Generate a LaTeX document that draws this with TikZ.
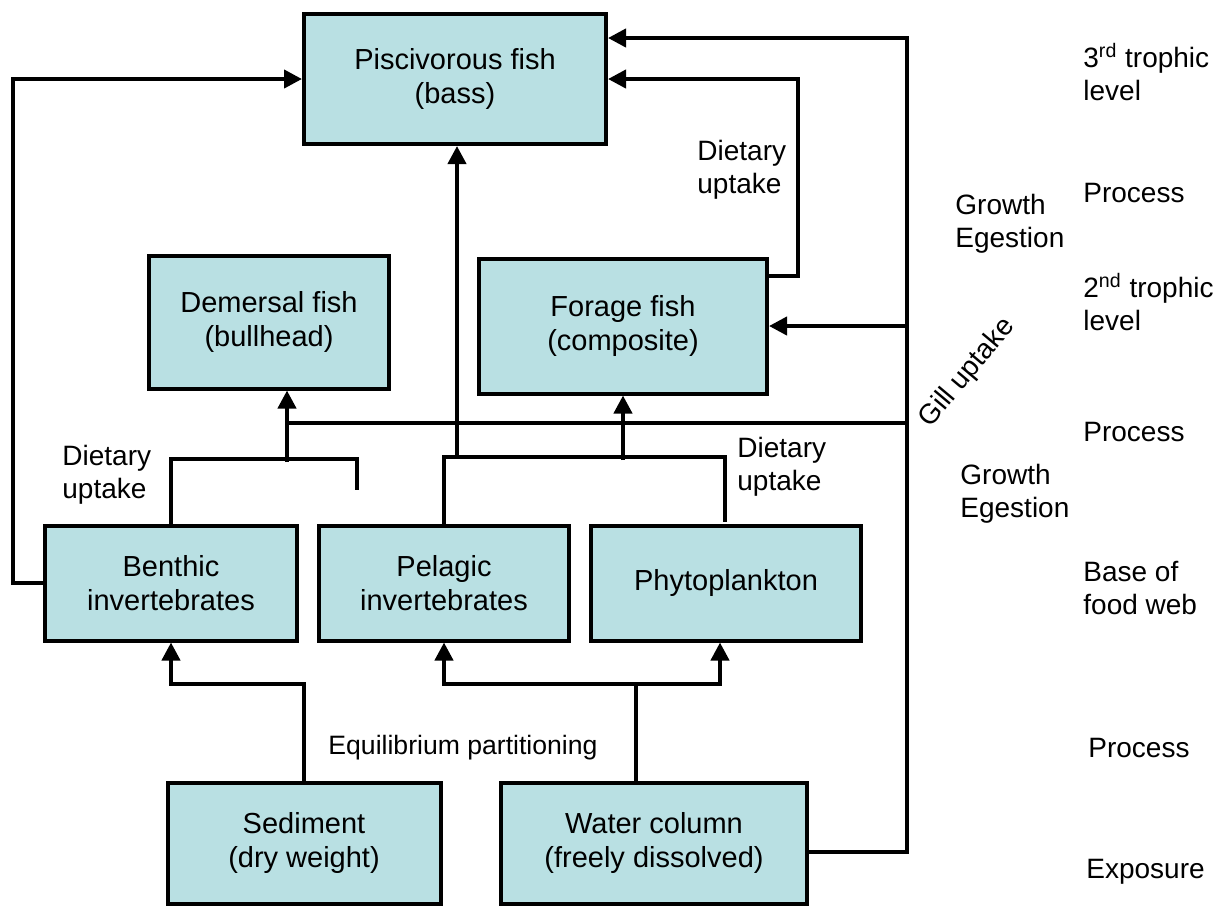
\documentclass[tikz,border=0pt]{standalone}
\usepackage{fontspec}
\setmainfont{Liberation Sans}
\usetikzlibrary{arrows.meta}
\definecolor{boxfill}{RGB}{185,224,227}

\begin{document}
\begin{tikzpicture}[x=0.5pt,y=-0.5pt,
    every node/.style={font=\fontsize{14}{16.5}\selectfont},
    box/.style={draw, line width=2pt, fill=boxfill, align=center, inner sep=0pt,
      font=\fontsize{14.5}{16.8}\selectfont},
    flow/.style={line width=2pt, -{Triangle[length=9pt,width=9pt]}},
    link/.style={line width=2pt},
    lbl/.style={align=left, anchor=west, inner sep=0pt}]
    \useasboundingbox (0,0) rectangle (1223,918);

    \node[box, minimum width=151pt, minimum height=65pt] (pisc) at (455,79) {Piscivorous fish\\(bass)};
    \node[box, minimum width=120pt, minimum height=66.5pt] (dem) at (269,322) {Demersal fish\\(bullhead)};
    \node[box, minimum width=144pt, minimum height=67.5pt] (forage) at (623,326) {Forage fish\\(composite)};
    \node[box, minimum width=126pt, minimum height=57.5pt] (benthic) at (171,583) {Benthic\\invertebrates};
    \node[box, minimum width=125pt, minimum height=57.5pt] (pelagic) at (444,583) {Pelagic\\invertebrates};
    \node[box, minimum width=135pt, minimum height=57.5pt] (phyto) at (726,583) {Phytoplankton};
    \node[box, minimum width=136.5pt, minimum height=60.5pt] (sed) at (304,843) {Sediment\\(dry weight)};
    \node[box, minimum width=153pt, minimum height=60.5pt] (water) at (654,843) {Water column\\(freely dissolved)};

    \coordinate (bfree) at (357,490);
    \coordinate (bjoin) at (287,462);
    \coordinate (pfree) at (725,522);
    \coordinate (pjoin) at (623,460);
    \coordinate (ptail) at (457,455);
    \coordinate (rail) at (907,423);

    % exposure
    \draw[flow] (sed.north) -- ++(0,-97) -| (benthic.south);
    \draw[link] ([xshift=-9pt]water.north) -- ++(0,-97) coordinate (wjoin);
    \draw[flow] (wjoin) -| (pelagic.south);
    \draw[flow] (wjoin) -| ([xshift=-3pt]phyto.south);

    % dietary uptake
    \draw[flow] (benthic.west) -- ++(-30,0) |- (pisc.west);
    \draw[link] (benthic.north) -- ++(0,-65) -| (bfree);
    \draw[flow] (bjoin) -- (bjoin |- dem.south);
    \draw[link] (pelagic.north) -- ++(0,-67) -| (pfree);
    \draw[flow] (pjoin) -- (forage.south);
    \draw[flow] (ptail) -- (ptail |- pisc.south);
    \draw[flow] ([yshift=25pt]forage.east) -- ++(29,0) |- (pisc.east);

    % gill uptake
    \draw[flow] ([yshift=-4.5pt]water.east) -| (rail) |- ([yshift=20.5pt]pisc.east);
    \draw[link] (rail) -- (bjoin |- rail);
    \draw[flow] (rail |- forage.east) -- (forage.east);

    \node[font=\fontsize{13.3}{16}\selectfont] (eqlbl) at (463,748) {Equilibrium partitioning};
    \node[lbl] (diet1) at (697,170) {Dietary\\uptake};
    \node[lbl] (diet2) at (62,475) {Dietary\\uptake};
    \node[lbl] (diet3) at (737,467) {Dietary\\uptake};
    \node[lbl] (grow1) at (955,224) {Growth\\Egestion};
    \node[lbl] (grow2) at (960,494) {Growth\\Egestion};
    \node[rotate=50] (gill) at (967,373) {Gill uptake};

    \node[lbl] (lvl3) at (1083,72) {3\textsuperscript{rd} trophic\\level};
    \node[lbl] (proc1) at (1083,193) {Process};
    \node[lbl] (lvl2) at (1083,302) {2\textsuperscript{nd} trophic\\level};
    \node[lbl] (proc2) at (1083,432) {Process};
    \node[lbl] (base) at (1083,588) {Base of\\food web};
    \node[lbl] (proc3) at (1088,748) {Process};
    \node[lbl] (expo) at (1086,872) {Exposure};
\end{tikzpicture}
\end{document}
